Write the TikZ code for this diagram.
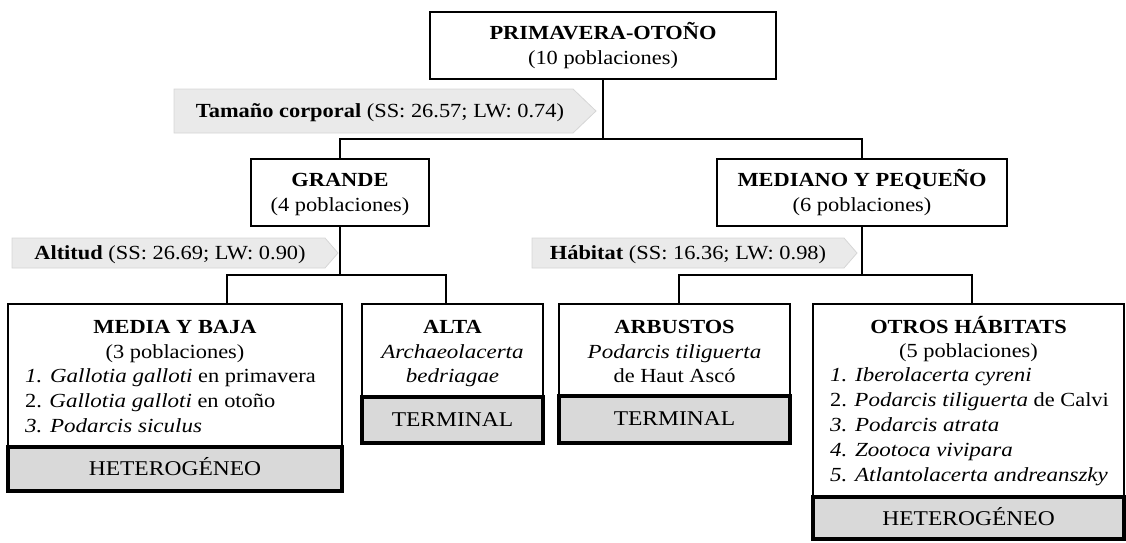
\documentclass[tikz,border=0pt]{standalone}
\usepackage{fontspec}
\setmainfont{Liberation Serif}[FakeStretch=1.12, ItalicFeatures={FakeStretch=1.15}]
\definecolor{tagfill}{HTML}{EAEAEA}
\definecolor{tagedge}{HTML}{D6D6D6}
\definecolor{leaffill}{HTML}{D9D9D9}
\begin{document}
\begin{tikzpicture}[x=1pt,y=-1pt,
  wbox/.style={draw, line width=1.8pt, fill=white, inner sep=0pt},
  gbox/.style={draw, line width=3.4pt, fill=leaffill, inner sep=0pt},
  link/.style={line width=1.8pt},
  tag/.style={fill=tagfill, draw=tagedge, line width=0.8pt},
  txt/.style={anchor=base, inner sep=0pt, font=\fontsize{20}{24}\selectfont},
  ltxt/.style={txt, anchor=base west},
  leaftxt/.style={txt, font=\fontsize{21}{24}\selectfont}]

\useasboundingbox (0,0) rectangle (1126,542);

% split criteria tags
\path[tag] (174,89) -- (573,89) -- (596,111) -- (573,133) -- (174,133) -- cycle;
\path[tag] (12,238) -- (325,238) -- (338,253) -- (325,268) -- (12,268) -- cycle;
\path[tag] (532,238) -- (844,238) -- (857,253) -- (844,268) -- (532,268) -- cycle;
\node[txt] (tTam) at (380,117) {\textbf{Tamaño corporal} (SS: 26.57; LW: 0.74)};
\node[txt] (tAlt) at (170,259) {\textbf{Altitud} (SS: 26.69; LW: 0.90)};
\node[txt] (tHab) at (688,259) {\textbf{Hábitat} (SS: 16.36; LW: 0.98)};

% boxes
\node[wbox, minimum width=346, minimum height=67] (root) at (603,45.5) {};
\node[wbox, minimum width=178, minimum height=67] (grande) at (340,192.5) {};
\node[wbox, minimum width=290, minimum height=67] (mediano) at (862,192.5) {};

\node[wbox, minimum width=334, minimum height=143] (media) at (175,375.5) {};
\node[gbox, minimum width=334, minimum height=44] (mediaG) at (175,469) {};
\node[wbox, minimum width=181, minimum height=93] (alta) at (452.5,350.5) {};
\node[gbox, minimum width=181, minimum height=46] (altaG) at (452.5,420) {};
\node[wbox, minimum width=231, minimum height=92] (arb) at (674.5,350) {};
\node[gbox, minimum width=231, minimum height=47] (arbG) at (674.5,419.5) {};
\node[wbox, minimum width=311, minimum height=193] (otros) at (968.5,400.5) {};
\node[gbox, minimum width=311, minimum height=42] (otrosG) at (968.5,518) {};

% junctions
\coordinate (j0) at (603,139);
\coordinate (jl) at (227,275);
\coordinate (jr) at (446,275);
\coordinate (kl) at (679,275);
\coordinate (kr) at (972,275);

% connectors
\draw[link] (root.south) -- (j0);
\draw[link] (grande.north) |- (j0) -| (mediano.north);
\draw[link] (grande.south) -- (grande.south |- jl);
\draw[link] (media.north -| jl) -- (jl) -- (jr) -- (alta.north -| jr);
\draw[link] (mediano.south) -- (mediano.south |- kl);
\draw[link] (arb.north -| kl) -- (kl) -- (kr) -- (otros.north -| kr);

% texts
\node[txt] (l1) at (603,39) {\textbf{PRIMAVERA-OTOÑO}};
\node[txt] (l2) at (603,64) {(10 poblaciones)};
\node[txt] (g1) at (340,186) {\textbf{GRANDE}};
\node[txt] (g2) at (340,211) {(4 poblaciones)};
\node[txt] (m1) at (862,186) {\textbf{MEDIANO Y PEQUEÑO}};
\node[txt] (m2) at (862,211) {(6 poblaciones)};

\node[txt] (a1) at (175,333) {\textbf{MEDIA Y BAJA}};
\node[txt] (a2) at (175,358) {(3 poblaciones)};
\node[ltxt] (a3) at (25,382) {\textit{1. Gallotia galloti} en primavera};
\node[ltxt] (a4) at (25,407) {2. \textit{Gallotia galloti} en otoño};
\node[ltxt] (a5) at (25,432) {\textit{3. Podarcis siculus}};
\node[leaftxt] (a6) at (175,475) {HETEROGÉNEO};

\node[txt] (b1) at (452.5,333) {\textbf{ALTA}};
\node[txt] (b2) at (452.5,358) {\textit{Archaeolacerta}};
\node[txt] (b3) at (452.5,382) {\textit{bedriagae}};
\node[leaftxt] (b4) at (452.5,426) {TERMINAL};

\node[txt] (c1) at (674.5,333) {\textbf{ARBUSTOS}};
\node[txt] (c2) at (674.5,358) {\textit{Podarcis tiliguerta}};
\node[txt] (c3) at (674.5,382) {de Haut Ascó};
\node[leaftxt] (c4) at (674.5,425) {TERMINAL};

\node[txt] (d1) at (968.5,333) {\textbf{OTROS HÁBITATS}};
\node[txt] (d2) at (968.5,357) {(5 poblaciones)};
\node[ltxt] (d3) at (830,381) {\textit{1. Iberolacerta cyreni}};
\node[ltxt] (d4) at (830,406) {2. \textit{Podarcis tiliguerta} de Calvi};
\node[ltxt] (d5) at (830,431) {\textit{3. Podarcis atrata}};
\node[ltxt] (d6) at (830,456) {\textit{4. Zootoca vivipara}};
\node[ltxt] (d7) at (830,481) {\textit{5. Atlantolacerta andreanszky}};
\node[leaftxt] (d8) at (968.5,525) {HETEROGÉNEO};
\end{tikzpicture}
\end{document}
